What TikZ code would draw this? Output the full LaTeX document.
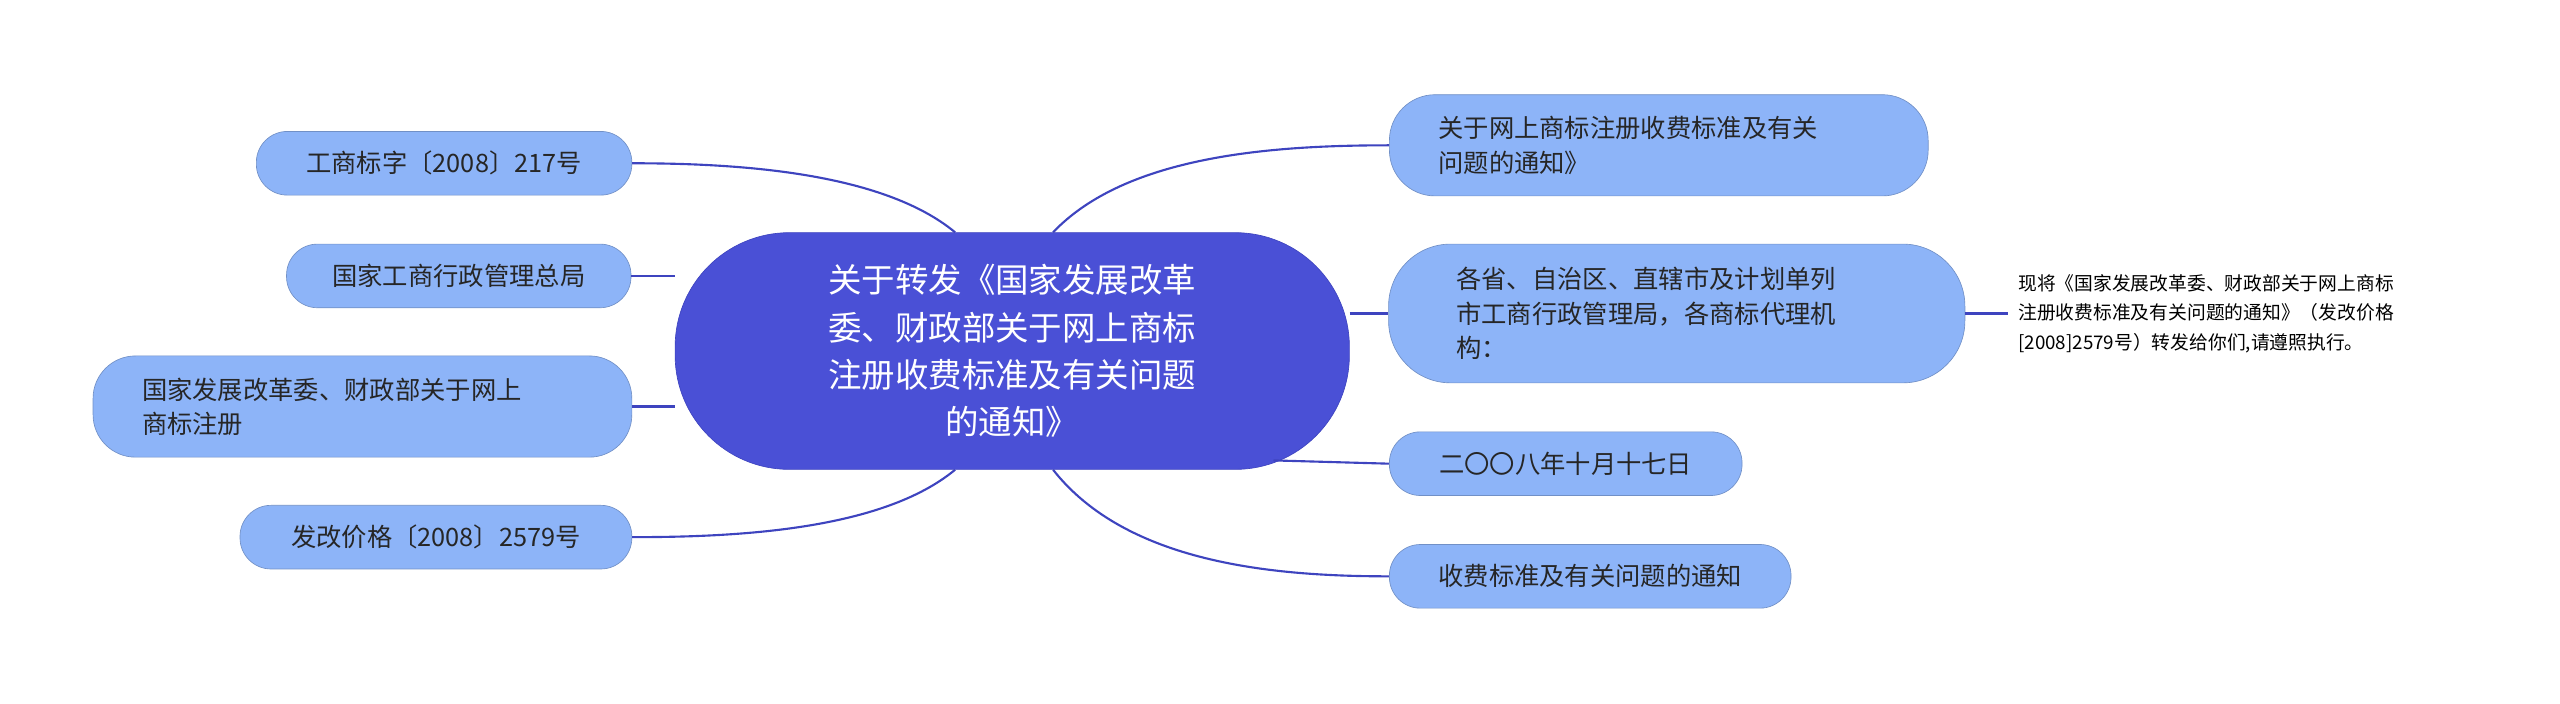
\documentclass[tikz,border=0pt]{standalone}
\usepackage{fontspec}
\setmainfont{Noto Sans CJK SC}
\begin{document}
\begin{tikzpicture}[x=1pt,y=-1pt,
  leaf/.style={draw=#1!80!black, fill=#1, rounded corners=19pt, minimum height=39pt, inner xsep=20pt, font=\fontsize{15.5}{21}\selectfont, text=black!85, align=left, anchor=center},
  leaf/.default=leafblue,
  conn/.style={draw=linkc, line width=1.3pt}]
\definecolor{leafblue}{HTML}{8DB4F8}
\definecolor{centc}{HTML}{4A50D6}
\definecolor{linkc}{HTML}{3E44BF}
\path[use as bounding box] (0,0) rectangle (1568,431);
\node[draw=linkc, fill=centc, rounded corners=70pt, minimum width=413pt, minimum height=145pt, text=white, align=center, font=\fontsize{20.5}{29}\selectfont] (c) at (620,215) {关于转发《国家发展改革\\委、财政部关于网上商标\\注册收费标准及有关问题\\的通知》};
\node[leaf, minimum width=230pt] (l1) at (272,100) {工商标字〔2008〕217号};
\node[leaf, minimum width=211pt] (l2) at (281,169) {国家工商行政管理总局};
\node[leaf, minimum width=329pt, minimum height=62pt, rounded corners=26pt, text width=270pt, inner xsep=30pt] (l3) at (222,249) {国家发展改革委、财政部关于网上\\商标注册};
\node[leaf, minimum width=240pt] (l4) at (267,329) {发改价格〔2008〕2579号};
\node[leaf, minimum width=330pt, minimum height=62pt, rounded corners=28pt, text width=270pt, inner xsep=30pt] (r1) at (1016,89) {关于网上商标注册收费标准及有关\\问题的通知》};
\node[leaf, minimum width=353pt, minimum height=85pt, rounded corners=38pt, text width=270pt, inner xsep=40pt] (r2) at (1027,192) {各省、自治区、直辖市及计划单列\\市工商行政管理局，各商标代理机\\构：};
\node[leaf, minimum width=216pt] (r3) at (959,284) {二〇〇八年十月十七日};
\node[leaf, minimum width=246pt] (r4) at (974,353) {收费标准及有关问题的通知};
\node[align=left, anchor=west, font=\fontsize{11.5}{18}\selectfont, inner sep=0pt] (t) at (1236,192) {现将《国家发展改革委、财政部关于网上商标\\注册收费标准及有关问题的通知》（发改价格\\{[2008]2579号）转发给你们,请遵照执行。}};
\draw[conn] ([xshift=-35pt]c.north) .. controls (540,105) and (450,100) .. (l1.east);
\draw[conn] (c.west |- l2.east) -- (l2.east);
\draw[conn] (c.west |- l3.east) -- (l3.east);
\draw[conn] ([xshift=-35pt]c.south) .. controls (540,325) and (450,329) .. (l4.east);
\draw[conn] ([xshift=25pt]c.north) .. controls (690,95) and (780,89) .. (r1.west);
\draw[conn] (c.east |- r2.west) -- (r2.west);
\draw[conn] (780,282) -- (r3.west);
\draw[conn] ([xshift=25pt]c.south) .. controls (690,345) and (780,353) .. (r4.west);
\draw[conn] (r2.east) -- ([xshift=-6pt]t.west);
\end{tikzpicture}
\end{document}
